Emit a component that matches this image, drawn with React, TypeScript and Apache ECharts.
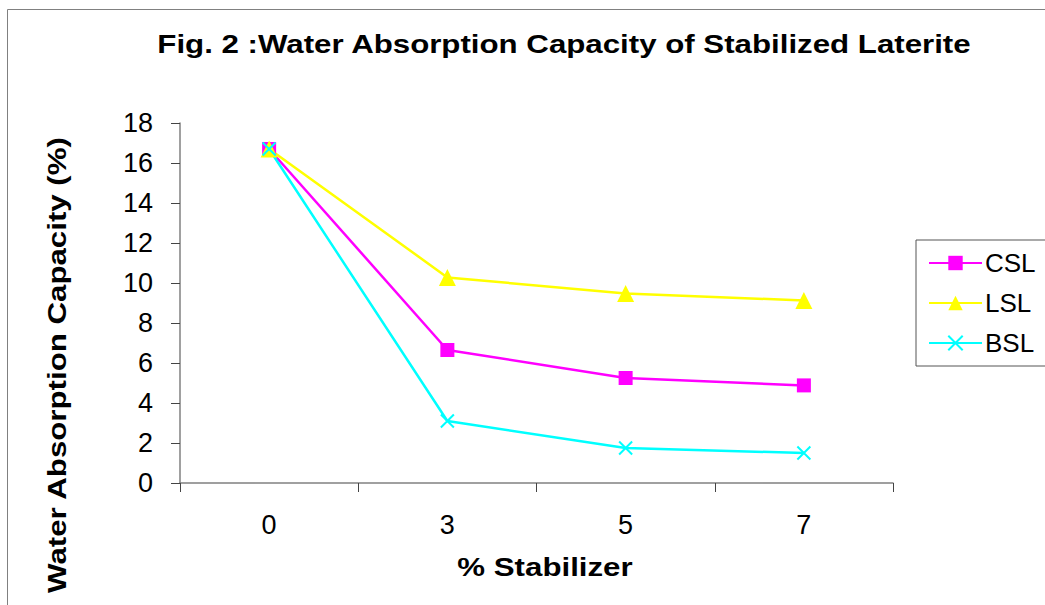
import React, { useEffect, useRef } from "react";
import * as echarts from "echarts";

const categories = ["0", "3", "5", "7"];
const cslValues = [16.7, 6.65, 5.25, 4.88];
const lslValues = [16.7, 10.28, 9.47, 9.13];
const bslValues = [16.7, 3.1, 1.75, 1.5];
const yTicks = { min: 0, max: 18, interval: 2 };

const FONT = "'Liberation Sans', Arial, sans-serif";

export default function App() {
  const ref = useRef<HTMLDivElement>(null);
  useEffect(() => {
    if (!ref.current) return;
    const chart = echarts.init(ref.current, null, { renderer: "svg" });
    const xSymbol = "path://M0,0L10,10M10,0L0,10";
    const boldText = (text: string, x: number, y: number, rotation = 0) => ({
      type: "text",
      x,
      y,
      rotation,
      scaleX: 1.25,
      style: {
        text,
        font: `bold 25px ${FONT}`,
        fill: "#000",
        align: "center",
        verticalAlign: "middle",
      },
    });
    chart.setOption({
      animation: false,
      backgroundColor: "#ffffff",
      textStyle: { fontFamily: FONT },
      grid: { left: 180, right: 152, top: 123, bottom: 122, containLabel: false },
      graphic: [
        {
          type: "rect",
          shape: { x: 7.5, y: 9.5, width: 1100, height: 700 },
          style: { fill: "none", stroke: "#808080", lineWidth: 1 },
          silent: true,
        },
        boldText("Fig. 2 :Water Absorption Capacity of Stabilized Laterite", 564, 44),
        boldText("Water Absorption Capacity (%)", 57, 365, Math.PI / 2),
        boldText("% Stabilizer", 545, 567),
      ],
      legend: {
        orient: "vertical",
        left: 916,
        top: 240,
        padding: [10, 30, 10, 12],
        itemGap: 14,
        itemWidth: 53,
        itemHeight: 18,
        borderColor: "#555",
        borderWidth: 1,
        textStyle: { fontSize: 26, color: "#000", fontFamily: FONT, padding: [0, 0, 0, -2] },
        data: ["CSL", "LSL", "BSL"],
      },
      xAxis: {
        type: "category",
        data: categories,
        boundaryGap: true,
        axisLine: { lineStyle: { color: "#808080", width: 1.5 } },
        axisTick: { show: true, length: 9, lineStyle: { color: "#444", width: 1 } },
        axisLabel: { fontSize: 27, color: "#000", margin: 28, fontFamily: FONT },
        splitLine: { show: false },
      },
      yAxis: {
        type: "value",
        min: yTicks.min,
        max: yTicks.max,
        interval: yTicks.interval,
        axisLine: { show: true, lineStyle: { color: "#808080", width: 1.5 } },
        axisTick: { show: true, length: 9, lineStyle: { color: "#444", width: 1 } },
        axisLabel: { fontSize: 27, color: "#000", margin: 27, fontFamily: FONT },
        splitLine: { show: false },
      },
      series: [
        {
          name: "CSL",
          type: "line",
          data: cslValues,
          symbol: "rect",
          symbolSize: 14,
          lineStyle: { color: "#FF00FF", width: 2.5 },
          itemStyle: { color: "#FF00FF" },
        },
        {
          name: "LSL",
          type: "line",
          data: lslValues,
          symbol: "triangle",
          symbolSize: 17,
          lineStyle: { color: "#FFFF00", width: 2.5 },
          itemStyle: { color: "#FFFF00" },
        },
        {
          name: "BSL",
          type: "line",
          data: bslValues,
          symbol: xSymbol,
          symbolSize: 13,
          lineStyle: { color: "#00FFFF", width: 2.5 },
          itemStyle: { color: "#00FFFF", borderColor: "#00FFFF", borderWidth: 2 },
        },
      ],
    });
    return () => chart.dispose();
  }, []);
  return (
    <div
      ref={ref}
      style={{ position: "absolute", left: 0, top: 0, width: 1045, height: 605 }}
    />
  );
}
